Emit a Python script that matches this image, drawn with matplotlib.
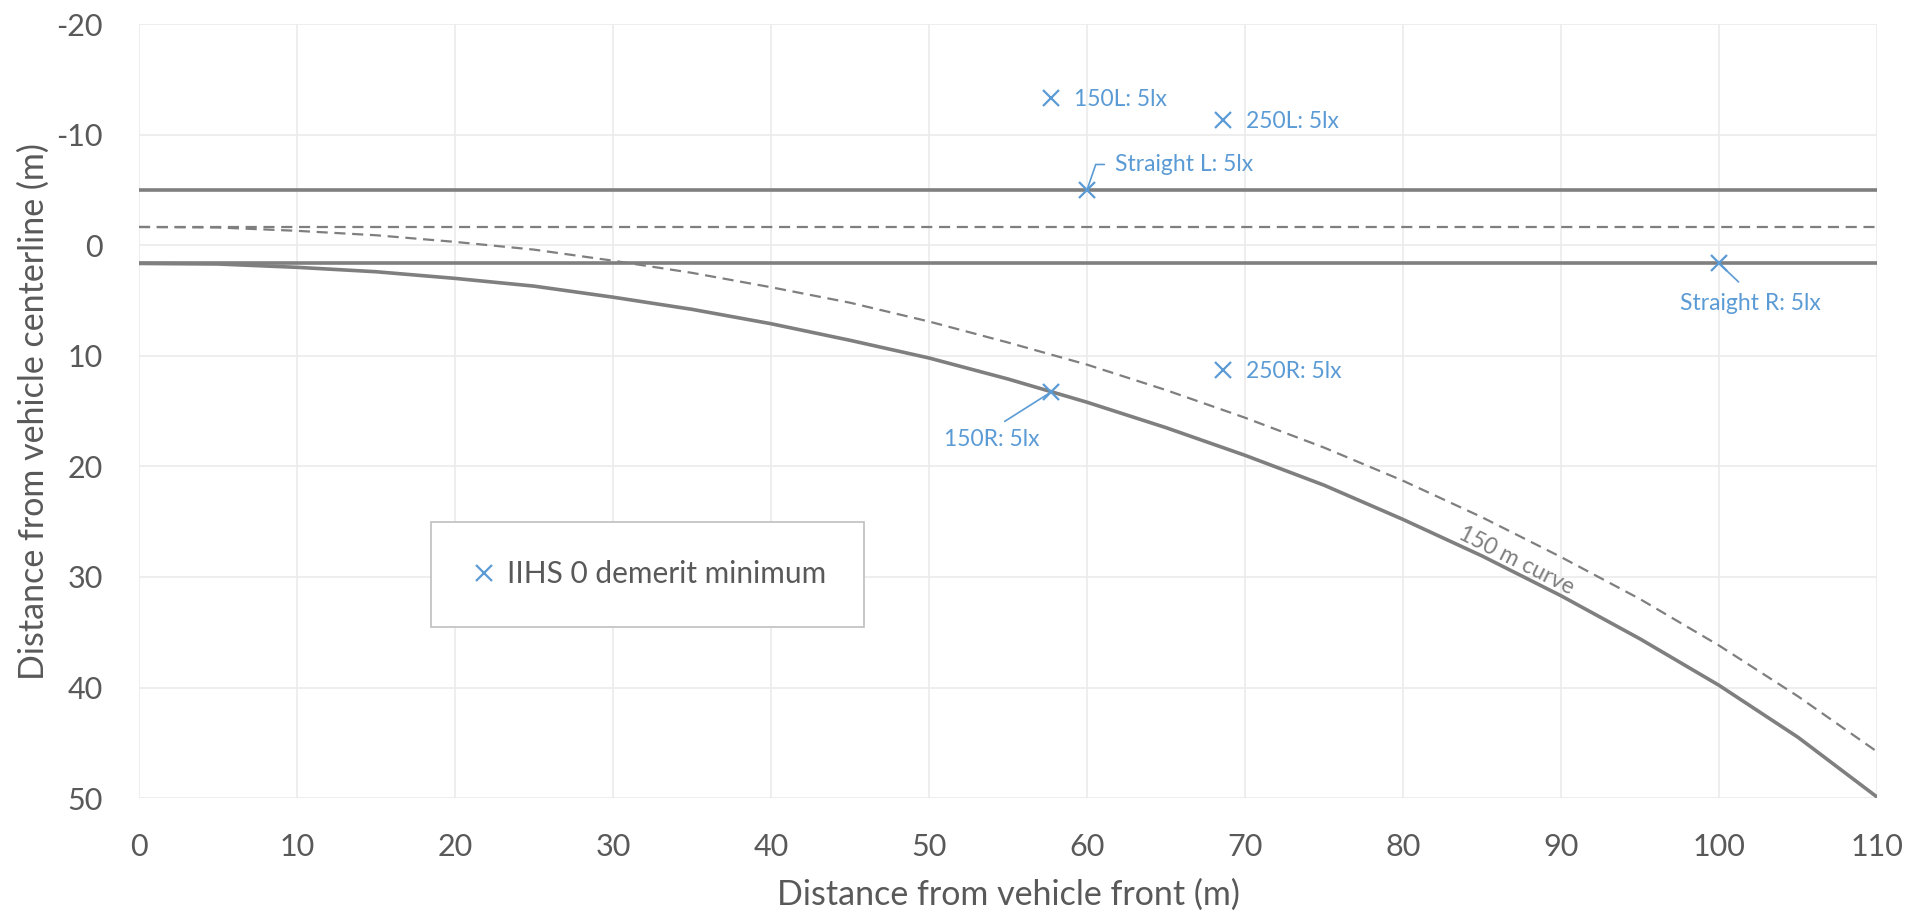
import matplotlib
matplotlib.use("Agg")
from matplotlib import pyplot as plt
import numpy as np

plt.rcParams['font.family'] = ['Lato', 'DejaVu Sans']
plt.rcParams['axes.unicode_minus'] = False

# lane lines on a straight road (lateral offset, m)
straight_left_edge = -5.0
straight_center = -1.65
straight_right_edge = 1.65

# 150 m curve, sampled every 5 m along the road
curve_x = [0, 5, 10, 15, 20, 25, 30, 35, 40, 45, 50, 55,
           60, 65, 70, 75, 80, 85, 90, 95, 100, 105, 110]
curve_edge = [1.65, 1.7, 2.0, 2.4, 3.0, 3.7, 4.7, 5.8, 7.1, 8.6, 10.2, 12.1,
              14.2, 16.5, 19.0, 21.7, 24.8, 28.1, 31.7, 35.6, 39.8, 44.5, 49.9]
curve_center = [-1.65, -1.6, -1.3, -0.9, -0.3, 0.4, 1.4, 2.5, 3.8, 5.2, 6.9, 8.8,
                10.8, 13.1, 15.6, 18.3, 21.3, 24.6, 28.2, 32.0, 36.2, 40.8, 45.8]

# IIHS 0 demerit minimum points
pt_names = ["150L", "250L", "Straight L", "150R", "250R", "Straight R"]
pt_x = [57.7, 68.6, 60.0, 57.7, 68.6, 100.0]
pt_y = [-13.3, -11.3, -5.0, 13.3, 11.3, 1.65]
pt_lux = 5

blue = "#5B9BD5"
gray = "#7F7F7F"
txt = "#595959"

fig = plt.figure(figsize=(19.22, 9.14), dpi=100)
ax = fig.add_axes([0.0723, 0.1268, 0.9043, 0.8469])
ax.set_xlim(0, 110)
ax.set_ylim(50, -20)

for yv in (straight_left_edge, straight_right_edge):
    ax.axhline(yv, color=gray, lw=2.6, zorder=2)
ax.axhline(straight_center, color=gray, lw=1.6, ls=(0, (5, 3)), zorder=2)

ax.plot(curve_x, curve_edge, color=gray, lw=2.6, zorder=2)
ax.plot(curve_x, curve_center, color=gray, lw=1.6, ls=(0, (5, 3)), zorder=2)

ax.plot(pt_x, pt_y, ls="none", marker="x", ms=12, mew=1.6, color=blue,
        zorder=4, label="IIHS 0 demerit minimum")

labels = [f"{n}: {pt_lux}lx" for n in pt_names]
fs_pt = 16.5

# plain labels to the right of the marker
for i in (0, 1, 4):
    ax.annotate(labels[i], (pt_x[i], pt_y[i]), xytext=(17, -1),
                textcoords="offset points", ha="left", va="center",
                color=blue, fontsize=fs_pt)

# labels with leader lines
ax.annotate(labels[2], (pt_x[2], pt_y[2]), xytext=(61.8, -7.3),
            ha="left", va="center", color=blue, fontsize=fs_pt,
            arrowprops=dict(arrowstyle="-", color=blue, lw=1.2,
                            relpos=(0, 0.5), shrinkA=6, shrinkB=0,
                            connectionstyle="angle,angleA=0,angleB=71,rad=0"))
ax.annotate(labels[3], (pt_x[3], pt_y[3]), xytext=(54.0, 17.6),
            ha="center", va="center", color=blue, fontsize=fs_pt,
            arrowprops=dict(arrowstyle="-", color=blue, lw=1.2,
                            relpos=(0.5, 1), shrinkA=7, shrinkB=0))
ax.annotate(labels[5], (pt_x[5], pt_y[5]), xytext=(102.0, 5.3),
            ha="center", va="center", color=blue, fontsize=fs_pt,
            arrowprops=dict(arrowstyle="-", color=blue, lw=1.2,
                            relpos=(0.5, 1), shrinkA=9, shrinkB=0))

# curve label, rotated along the edge line
p0 = ax.transData.transform((85, curve_edge[17]))
p1 = ax.transData.transform((90, curve_edge[18]))
ang = np.degrees(np.arctan2(p1[1] - p0[1], p1[0] - p0[0]))
ax.text(87.2, 28.5, "150 m curve", rotation=ang, rotation_mode="anchor",
        ha="center", va="center", color=gray, fontsize=fs_pt)

ax.set_xticks(np.arange(0, 111, 10))
ax.set_yticks(np.arange(-20, 51, 10))
ax.grid(True, color="#EBEBEB", lw=1.2, zorder=0)
ax.set_axisbelow(True)
for s in ax.spines.values():
    s.set_visible(False)
ax.tick_params(length=0, labelsize=22, labelcolor=txt)
ax.tick_params(axis="x", pad=25)
ax.tick_params(axis="y", pad=26)

ax.set_xlabel("Distance from vehicle front (m)", fontsize=24.5, color=txt, labelpad=13)
ax.set_ylabel("Distance from vehicle centerline (m)", fontsize=24.5, color=txt, labelpad=5)

leg = ax.legend(loc="center", bbox_to_anchor=(0.2928, 0.289), fontsize=21.5,
                frameon=True, fancybox=False, framealpha=1, edgecolor="#BFBFBF",
                borderpad=1.29, handlelength=0.94, handletextpad=0.29,
                labelcolor=txt)
leg.get_frame().set_linewidth(1.2)

fig.savefig("out.png", dpi=100)
